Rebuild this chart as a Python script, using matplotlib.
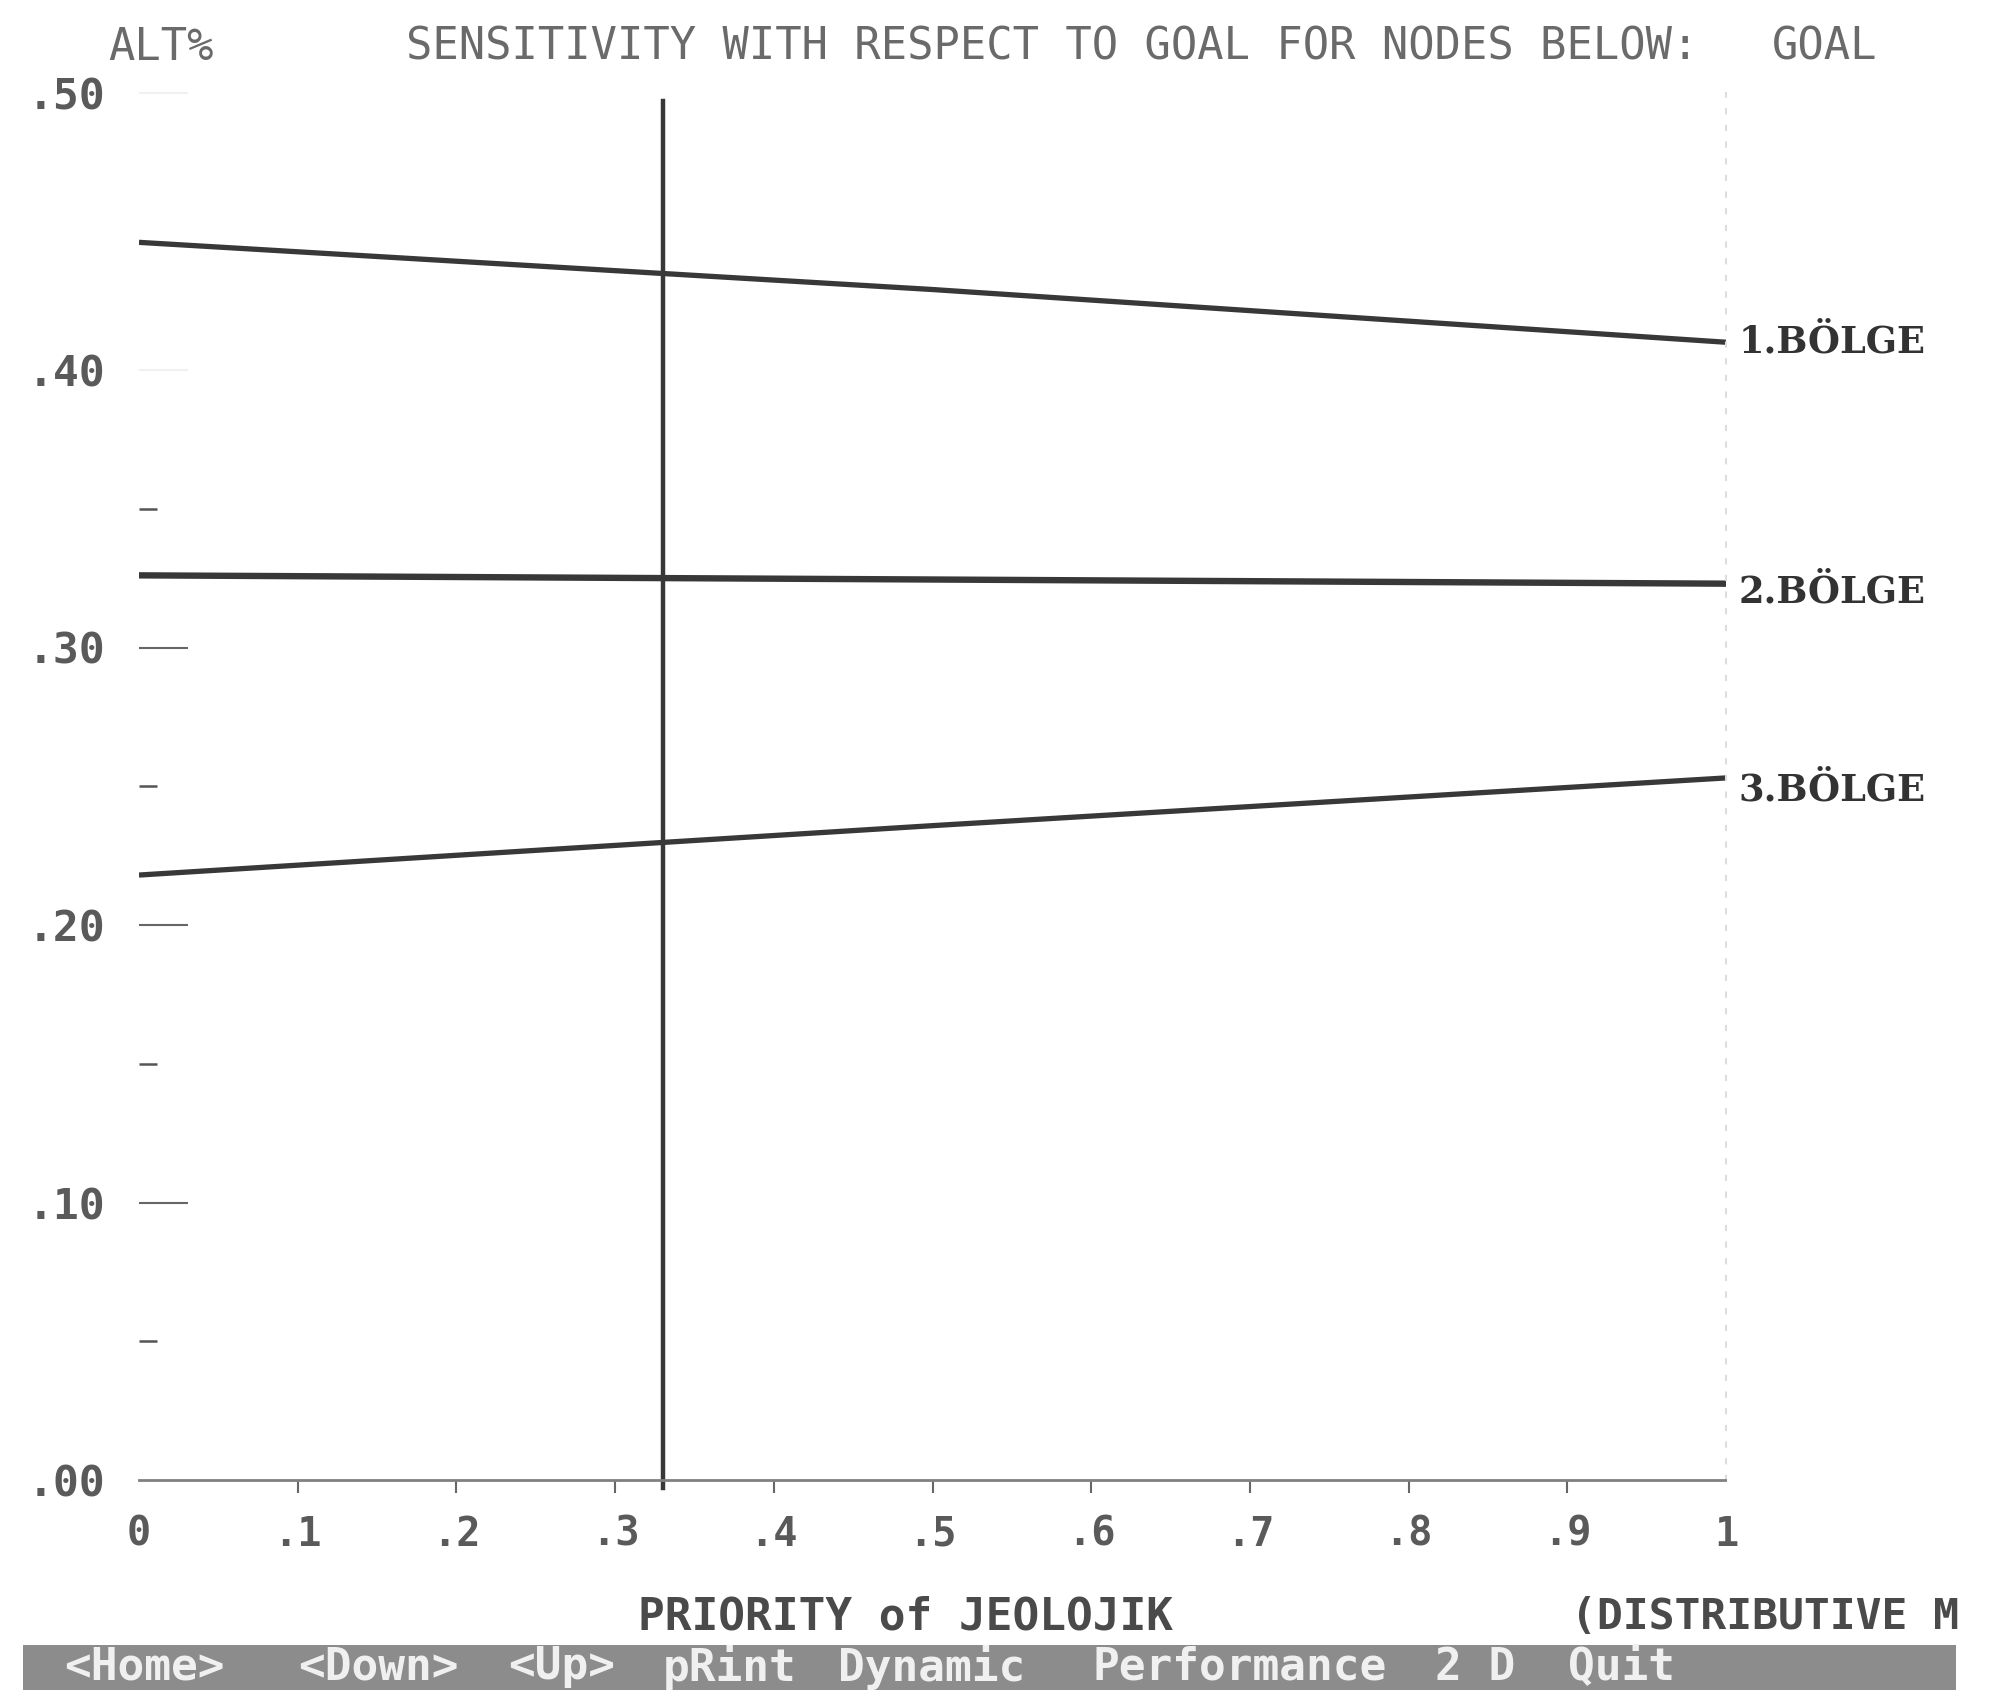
import numpy as np
import matplotlib
matplotlib.use("Agg")
import matplotlib.pyplot as plt
from matplotlib.patches import Rectangle

x_pts = [0.0, 0.5, 1.0]
bolge1 = [0.446, 0.429, 0.410]
bolge2 = [0.326, 0.3245, 0.323]
bolge3 = [0.218, 0.2358, 0.253]
series_names = ["1.BÖLGE", "2.BÖLGE", "3.BÖLGE"]
current_priority = 0.33

yticks = [0.0, 0.1, 0.2, 0.3, 0.4, 0.5]
ytick_labels = [".00", ".10", ".20", ".30", ".40", ".50"]
yminor = [0.05, 0.15, 0.25, 0.35]
xticks = [0, .1, .2, .3, .4, .5, .6, .7, .8, .9, 1]
xtick_labels = ["0", ".1", ".2", ".3", ".4", ".5", ".6", ".7", ".8", ".9", "1"]

menu_items = ["<Home>", "<Down>", "<Up>", "pRint", "Dynamic", "Performance", "2 D", "Quit"]
menu_x = [64, 298, 508, 663, 838, 1092, 1435, 1568]  # left edges, px

mono = "DejaVu Sans Mono"
W, H = 1991, 1696
fig = plt.figure(figsize=(W / 100, H / 100), dpi=100)
ax = fig.add_axes([139 / W, 1 - 1480 / H, (1726 - 139) / W, (1480 - 92.5) / H])
ax.set_xlim(0, 1)
ax.set_ylim(0, 0.5)

lw = [3.8, 4.6, 3.8]
label_dy = [0, -6, -9]
for vals, name, w, dy in zip([bolge1, bolge2, bolge3], series_names, lw, label_dy):
    ax.plot(x_pts, vals, color="#383838", lw=w, solid_capstyle="butt")
    ax.annotate(name, xy=(1, vals[-1]), xytext=(9, dy), textcoords="offset points",
                va="center", ha="left", fontsize=26.5, family="DejaVu Serif",
                fontweight="bold", color="#333333", annotation_clip=False)

# current priority marker
ax.plot([current_priority, current_priority], [-0.003, 0.497], color="#383838",
        lw=3.2, clip_on=False)

# spines
for s in ["top", "left"]:
    ax.spines[s].set_visible(False)
ax.spines["bottom"].set_linestyle((0, (1, 1)))
ax.spines["bottom"].set_color("#808080")
ax.spines["bottom"].set_linewidth(2)
ax.spines["right"].set_linestyle((0, (2, 6)))
ax.spines["right"].set_color("#dddddd")
ax.spines["right"].set_linewidth(1.5)

ax.set_yticks(yticks)
ax.set_yticklabels(ytick_labels, family=mono, fontsize=31, fontweight="bold",
                   color="#5a5a5a")
ax.set_yticks(yminor, minor=True)
ax.tick_params(axis="y", which="major", direction="in", length=35, width=1.5,
               color="#666666", pad=24)
ax.tick_params(axis="y", which="minor", direction="in", length=13, width=1.8,
               color="#555555")
mt = ax.yaxis.get_major_ticks()
mt[0].tick1line.set_visible(False)
mt[4].tick1line.set_markeredgecolor("#f0f0f0")
mt[5].tick1line.set_markeredgecolor("#f0f0f0")

ax.set_xticks(xticks)
ax.set_xticklabels(xtick_labels, family=mono, fontsize=29, fontweight="bold",
                   color="#5a5a5a")
ax.tick_params(axis="x", direction="out", length=9, width=1.5, color="#666666",
               pad=16)
mx = ax.xaxis.get_major_ticks()
mx[0].tick1line.set_visible(False)
mx[-1].tick1line.set_visible(False)

# header line
hdr = dict(family=mono, fontsize=31.5, color="#6a6a6a", va="center", ha="left")
fig.text(108 / W, 1 - 47 / H, "ALT%", **hdr)
fig.text(406 / W, 1 - 47 / H, "SENSITIVITY WITH RESPECT TO GOAL FOR NODES BELOW:", **hdr)
fig.text(1772 / W, 1 - 47 / H, "GOAL", **hdr)

# x axis caption
fig.text(905 / W, 1 - 1617 / H, "PRIORITY of JEOLOJIK", family=mono, fontsize=32,
         fontweight="bold", color="#4a4a4a", va="center", ha="center")
fig.text(1571 / W, 1 - 1617 / H, "(DISTRIBUTIVE M", family=mono, fontsize=31,
         fontweight="bold", color="#4a4a4a", va="center", ha="left")

# menu bar
fig.patches.append(Rectangle((23 / W, 1 - 1690 / H), (1956 - 23) / W, 45 / H,
                             transform=fig.transFigure, facecolor="#8c8c8c",
                             edgecolor="none"))
for item, px in zip(menu_items, menu_x):
    fig.text(px / W, 1 - 1667 / H, item, family=mono, fontsize=32,
             fontweight="bold", color="#f0f0f0", va="center", ha="left")

fig.savefig("out.png", dpi=100)
